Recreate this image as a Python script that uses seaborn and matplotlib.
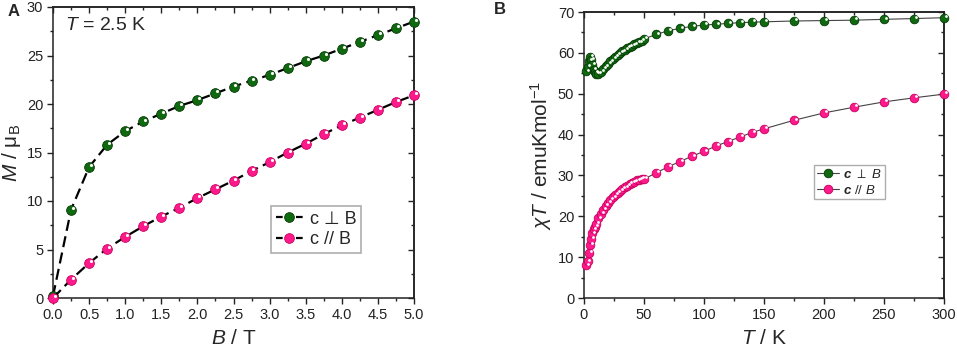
import matplotlib
matplotlib.use("Agg")
import matplotlib.pyplot as plt
import matplotlib.transforms as mtransforms
from matplotlib.lines import Line2D
from matplotlib.ticker import MultipleLocator
import seaborn as sns
import pandas as pd

# panel A: magnetisation at 2.5 K
field = [0, 0.25, 0.5, 0.75, 1.0, 1.25, 1.5, 1.75, 2.0, 2.25, 2.5,
         2.75, 3.0, 3.25, 3.5, 3.75, 4.0, 4.25, 4.5, 4.75, 5.0]
m_perp = [0.2, 9.1, 13.5, 15.8, 17.2, 18.2, 19.0, 19.8, 20.4, 21.1, 21.8,
          22.4, 23.0, 23.7, 24.4, 25.0, 25.7, 26.4, 27.1, 27.8, 28.5]
m_par = [0.0, 1.9, 3.6, 5.1, 6.3, 7.4, 8.4, 9.3, 10.3, 11.2, 12.1,
         13.1, 14.0, 15.0, 15.9, 16.9, 17.8, 18.6, 19.4, 20.2, 20.9]

# panel B: chi*T vs temperature
temp = [2, 3, 4, 5, 6, 7, 8, 9, 10, 12, 14, 16, 18, 20, 22, 24, 26, 28, 30,
        32, 34, 36, 38, 40, 42, 44, 46, 48, 50, 60, 70, 80, 90, 100, 110,
        120, 130, 140, 150, 175, 200, 225, 250, 275, 300]
chit_perp = [55.5, 56.5, 58.0, 59.0, 58.3, 57.0, 55.8, 55.2, 54.9, 54.8,
             55.3, 56.0, 56.7, 57.3, 57.9, 58.5, 59.0, 59.5, 60.0, 60.4,
             60.8, 61.2, 61.5, 61.8, 62.1, 62.4, 62.6, 62.9, 63.4, 64.5,
             65.4, 66.0, 66.5, 66.8, 67.0, 67.2, 67.4, 67.5, 67.6, 67.8,
             67.9, 68.0, 68.2, 68.4, 68.6]
chit_par = [8.0, 9.0, 11.0, 13.0, 14.5, 15.8, 16.8, 17.5, 18.2, 19.5, 20.6,
            21.6, 22.5, 23.3, 24.0, 24.6, 25.2, 25.7, 26.2, 26.7, 27.1, 27.5,
            27.9, 28.2, 28.5, 28.8, 29.0, 29.2, 29.1, 30.6, 32.1, 33.4, 34.7,
            35.9, 37.2, 38.3, 39.4, 40.5, 41.4, 43.5, 45.3, 46.7, 48.0, 49.0,
            49.9]

green = "#0f6a0f"
green_edge = "#063806"
pink = "#ff1a8c"
pink_edge = "#c8005f"

sns.set_style("ticks")
plt.rcParams["font.family"] = ["Liberation Sans", "DejaVu Sans"]
plt.rcParams["mathtext.fontset"] = "custom"
plt.rcParams["mathtext.rm"] = "Liberation Sans"
plt.rcParams["mathtext.it"] = "Liberation Sans:italic"
plt.rcParams["mathtext.bf"] = "Liberation Sans:bold:italic"
plt.rcParams["mathtext.fallback"] = "stixsans"

fig = plt.figure(figsize=(9.57, 3.49), dpi=100)
W, H = 957, 349
ax1 = fig.add_axes([53 / W, 1 - 298 / H, 361 / W, 291 / H])
ax2 = fig.add_axes([584 / W, 1 - 298 / H, 360 / W, 286 / H])


def shine(ax, x, y, size):
    d = 0.2 * size / 72
    off = mtransforms.ScaledTranslation(d, d, fig.dpi_scale_trans)
    ax.plot(x, y, ls="none", marker="o", ms=size * 0.32, mfc="white", mec="none",
            transform=ax.transData + off, zorder=5, clip_on=False)


def style_axes(ax, xmaj, xmin, ymaj, ymin):
    ax.xaxis.set_major_locator(MultipleLocator(xmaj))
    ax.xaxis.set_minor_locator(MultipleLocator(xmin))
    ax.yaxis.set_major_locator(MultipleLocator(ymaj))
    ax.yaxis.set_minor_locator(MultipleLocator(ymin))
    ax.tick_params(which="both", direction="out", width=1, labelsize=10.5,
                   colors="#222222", pad=3)
    ax.tick_params(which="major", length=4)
    ax.tick_params(which="minor", length=2)
    # Origin style: bottom/left out, top/right in
    sec_x = ax.secondary_xaxis("top")
    sec_x.xaxis.set_major_locator(MultipleLocator(xmaj))
    sec_x.xaxis.set_minor_locator(MultipleLocator(xmin))
    sec_x.tick_params(which="major", direction="in", length=4, width=1, labeltop=False)
    sec_x.tick_params(which="minor", direction="in", length=2, width=1, labeltop=False)
    sec_y = ax.secondary_yaxis("right")
    sec_y.yaxis.set_major_locator(MultipleLocator(ymaj))
    sec_y.yaxis.set_minor_locator(MultipleLocator(ymin))
    sec_y.tick_params(which="major", direction="in", length=4, width=1, labelright=False)
    sec_y.tick_params(which="minor", direction="in", length=2, width=1, labelright=False)
    for sec in (sec_x, sec_y):
        for sp in sec.spines.values():
            sp.set_linewidth(1.1)
            sp.set_color("#222222")
    for sp in ax.spines.values():
        sp.set_linewidth(1.1)
        sp.set_color("#222222")


# ---- panel A ----
dfa = pd.DataFrame({"B": field, "perp": m_perp, "par": m_par})
ms_a = 7
dash = (0, (5, 2.5))
sns.lineplot(data=dfa, x="B", y="perp", ax=ax1, color="black", lw=1.6,
             linestyle=dash, marker="o", ms=ms_a,
             mfc=green, mec=green_edge, mew=0.6, zorder=3, clip_on=False)
sns.lineplot(data=dfa, x="B", y="par", ax=ax1, color="black", lw=1.6,
             linestyle=dash, marker="o", ms=ms_a,
             mfc=pink, mec=pink_edge, mew=0.6, zorder=3, clip_on=False)
shine(ax1, field[1:], m_perp[1:], ms_a)
shine(ax1, field, m_par, ms_a)
ax1.set_xlim(0, 5)
ax1.set_ylim(0, 30)
style_axes(ax1, 0.5, 0.25, 5, 2.5)
ax1.set_xlabel(r"$B$ / T", fontsize=15, labelpad=5)
ax1.set_ylabel(r"$M$ / μ$_\mathrm{B}$", fontsize=15, labelpad=3)
ax1.text(0.033, 0.965, r"$T$ = 2.5 K", transform=ax1.transAxes,
         fontsize=14, va="top", ha="left")

h_perp = Line2D([], [], color="black", lw=1.6, ls=(0, (3, 1.5)), marker="o",
                ms=ms_a, mfc=green, mec=green_edge, mew=0.6)
h_par = Line2D([], [], color="black", lw=1.6, ls=(0, (3, 1.5)), marker="o",
               ms=ms_a, mfc=pink, mec=pink_edge, mew=0.6)
leg = ax1.legend([h_perp, h_par], ["c ⊥ B", "c // B"], loc="lower left",
                 bbox_to_anchor=(0.605, 0.155), fontsize=13, frameon=True,
                 fancybox=False, edgecolor="#999999", handlelength=1.5,
                 handletextpad=0.4, borderpad=0.25, labelspacing=0.2,
                 borderaxespad=0)
leg.get_frame().set_linewidth(1.2)

# ---- panel B ----
dfb = pd.DataFrame({"T": temp, "perp": chit_perp, "par": chit_par})
ms_b = 6.2
sns.lineplot(data=dfb, x="T", y="perp", ax=ax2, color="#444444", lw=0.8,
             marker="o", ms=ms_b, mfc=green, mec=green_edge, mew=0.6,
             zorder=3, clip_on=False)
sns.lineplot(data=dfb, x="T", y="par", ax=ax2, color="#444444", lw=0.8,
             marker="o", ms=ms_b, mfc=pink, mec=pink_edge, mew=0.6,
             zorder=3, clip_on=False)
shine(ax2, temp, chit_perp, ms_b)
shine(ax2, temp, chit_par, ms_b)
ax2.set_xlim(0, 300)
ax2.set_ylim(0, 70)
style_axes(ax2, 50, 25, 10, 5)
ax2.set_xlabel(r"$T$ / K", fontsize=15, labelpad=5)
ax2.set_ylabel(r"$\chi T$ / emuKmol$^{\mathrm{-1}}$", fontsize=15, labelpad=3)

g_perp = Line2D([], [], color="#444444", lw=0.8, marker="o", ms=ms_b,
                mfc=green, mec=green_edge, mew=0.6)
g_par = Line2D([], [], color="#444444", lw=0.8, marker="o", ms=ms_b,
               mfc=pink, mec=pink_edge, mew=0.6)
leg2 = ax2.legend([g_perp, g_par], [r"$\mathbf{c}$ $\perp$ $B$", r"$\mathbf{c}$ // $B$"],
                  loc="lower left", bbox_to_anchor=(0.64, 0.345), fontsize=9.5,
                  frameon=True, fancybox=False, edgecolor="#999999",
                  handlelength=1.7, handletextpad=0.3, borderpad=0.2,
                  labelspacing=0.2, borderaxespad=0)
leg2.get_frame().set_linewidth(1.0)

fig.text(8 / W, 1 - 11 / H, "A", fontsize=12, fontweight="bold", va="center")
fig.text(494 / W, 1 - 10 / H, "B", fontsize=12, fontweight="bold", va="center")

fig.savefig("out.png", dpi=100)
